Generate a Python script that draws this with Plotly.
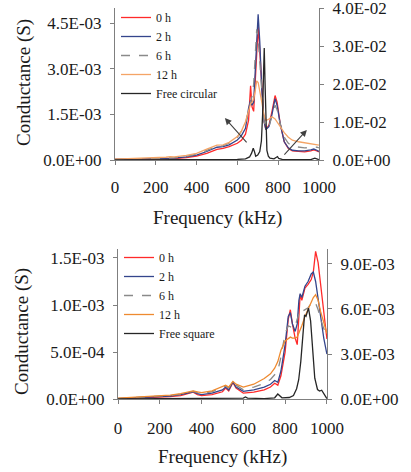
import plotly.graph_objects as go

# ---------------- Data: top panel (circular) ----------------
freq_top = [0, 50, 100, 150, 200, 250, 270, 290, 350, 400, 450, 500, 530, 560, 600, 620, 640,
            655, 665, 672, 680, 688, 695, 702, 710, 720, 730, 740, 755, 770, 785, 795, 810,
            830, 850, 870, 900, 930, 960, 975, 990, 1000]
top_0h = [2.0e-5, 2.5e-5, 3.0e-5, 3.5e-5, 4.0e-5, 5.0e-5, 6.5e-5, 5.0e-5, 8.0e-5, 1.3e-4, 2.2e-4,
          3.5e-4, 3.8e-4, 4.4e-4, 5.5e-4, 6.5e-4, 8.5e-4, 1.3e-3, 2.44e-3, 1.75e-3, 1.6e-3, 2.6e-3,
          3.9e-3, 4.38e-3, 3.6e-3, 2.2e-3, 1.3e-3, 1.0e-3, 1.15e-3, 1.6e-3, 2.12e-3, 1.9e-3, 1.2e-3,
          6.0e-4, 3.8e-4, 3.0e-4, 2.8e-4, 2.7e-4, 3.0e-4, 3.3e-4, 3.0e-4, 2.7e-4]
top_2h = [2.0e-5, 3.0e-5, 3.5e-5, 4.0e-5, 5.0e-5, 6.0e-5, 7.5e-5, 6.0e-5, 1.0e-4, 1.6e-4, 2.8e-4,
          4.2e-4, 4.4e-4, 5.0e-4, 6.6e-4, 8.0e-4, 1.04e-3, 1.7e-3, 1.97e-3, 1.8e-3, 1.9e-3, 3.0e-3,
          4.3e-3, 4.79e-3, 3.9e-3, 2.3e-3, 1.3e-3, 1.0e-3, 1.1e-3, 1.5e-3, 2.02e-3, 1.8e-3, 1.2e-3,
          6.0e-4, 4.0e-4, 3.2e-4, 3.0e-4, 3.0e-4, 3.3e-4, 3.6e-4, 3.2e-4, 2.8e-4]
top_6h = [2.0e-5, 3.0e-5, 4.0e-5, 5.0e-5, 6.0e-5, 7.0e-5, 9.0e-5, 7.0e-5, 1.2e-4, 1.9e-4, 3.2e-4,
          4.5e-4, 4.7e-4, 5.5e-4, 7.5e-4, 9.5e-4, 1.2e-3, 1.6e-3, 1.9e-3, 2.1e-3, 2.5e-3, 3.6e-3,
          4.3e-3, 4.0e-3, 3.2e-3, 2.0e-3, 1.3e-3, 1.05e-3, 1.1e-3, 1.45e-3, 1.8e-3, 1.65e-3, 1.2e-3,
          7.5e-4, 5.5e-4, 4.5e-4, 4.2e-4, 4.0e-4, 4.1e-4, 4.3e-4, 4.2e-4, 4.0e-4]
top_12h = [3.0e-5, 4.0e-5, 5.0e-5, 6.0e-5, 7.0e-5, 9.0e-5, 1.1e-4, 1.0e-4, 1.5e-4, 2.2e-4, 3.6e-4,
           4.9e-4, 5.0e-4, 5.8e-4, 7.7e-4, 9.5e-4, 1.26e-3, 1.6e-3, 1.85e-3, 1.9e-3, 2.0e-3, 2.3e-3,
           2.6e-3, 2.55e-3, 2.3e-3, 1.9e-3, 1.5e-3, 1.3e-3, 1.35e-3, 1.42e-3, 1.35e-3, 1.25e-3, 1.1e-3,
           9.0e-4, 7.5e-4, 6.5e-4, 6.0e-4, 5.6e-4, 5.3e-4, 5.2e-4, 5.0e-4, 4.9e-4]
freq_free_circ = [0, 100, 200, 300, 400, 500, 600, 640, 660, 670, 678, 684, 690, 700, 710, 718,
                  724, 728, 732, 736, 740, 745, 752, 760, 780, 792, 797, 803, 820, 900, 960, 980,
                  990, 1000]
free_circular = [5e-5, 5e-5, 6e-5, 8e-5, 8e-5, 1.0e-4, 1.5e-4, 3.0e-4, 8.0e-4, 1.8e-3, 3.1e-3,
                 2.2e-3, 1.0e-3, 1.3e-3, 2.2e-3, 5.0e-3, 1.2e-2, 2.2e-2, 2.95e-2, 2.0e-2, 8.0e-3,
                 2.5e-3, 1.0e-3, 5.0e-4, 3.0e-4, 6.0e-4, 9.0e-4, 4.0e-4, 1.5e-4, 8e-5, 1.0e-4,
                 5.0e-4, 3.0e-4, 1.0e-4]

# ---------------- Data: bottom panel (square) ----------------
freq_bot = [0, 50, 100, 150, 200, 250, 300, 340, 360, 380, 400, 450, 500, 515, 530, 550, 565,
            600, 650, 700, 730, 750, 765, 780, 800, 815, 825, 835, 848, 858, 866, 872, 880, 895,
            910, 925, 935, 946, 958, 970, 985, 1000]
bot_0h = [5e-6, 1.0e-5, 1.5e-5, 1.8e-5, 2.2e-5, 2.8e-5, 4.0e-5, 6.0e-5, 7.5e-5, 5.0e-5, 4.0e-5,
          5.0e-5, 8.0e-5, 1.2e-4, 9.0e-5, 1.8e-4, 1.2e-4, 6.5e-5, 7.5e-5, 1.0e-4, 1.3e-4, 1.7e-4,
          1.5e-4, 2.5e-4, 5.0e-4, 8.5e-4, 9.5e-4, 8.0e-4, 6.5e-4, 5.8e-4, 9.0e-4, 1.11e-3, 1.05e-3,
          1.18e-3, 1.22e-3, 1.27e-3, 1.35e-3, 1.57e-3, 1.45e-3, 1.23e-3, 9.0e-4, 6.4e-4]
bot_2h = [8e-6, 1.2e-5, 1.8e-5, 2.2e-5, 2.7e-5, 3.5e-5, 5.0e-5, 6.8e-5, 8.0e-5, 6.0e-5, 5.0e-5,
          6.5e-5, 1.0e-4, 1.3e-4, 1.0e-4, 1.85e-4, 1.3e-4, 8.5e-5, 1.0e-4, 1.3e-4, 1.6e-4, 2.0e-4,
          1.8e-4, 3.0e-4, 5.8e-4, 8.8e-4, 9.2e-4, 8.0e-4, 7.2e-4, 8.0e-4, 1.05e-3, 1.12e-3, 1.08e-3,
          1.2e-3, 1.25e-3, 1.33e-3, 1.35e-3, 1.25e-3, 1.05e-3, 8.5e-4, 6.5e-4, 4.8e-4]
bot_6h = [1.0e-5, 1.5e-5, 2.0e-5, 2.5e-5, 3.0e-5, 4.0e-5, 5.5e-5, 7.5e-5, 8.5e-5, 7.0e-5, 6.0e-5,
          8.0e-5, 1.2e-4, 1.4e-4, 1.2e-4, 1.9e-4, 1.5e-4, 1.0e-4, 1.3e-4, 1.7e-4, 2.1e-4, 2.6e-4,
          3.0e-4, 4.5e-4, 7.0e-4, 7.8e-4, 7.7e-4, 7.5e-4, 7.8e-4, 8.5e-4, 9.2e-4, 9.5e-4, 9.3e-4,
          9.5e-4, 9.7e-4, 1.02e-3, 1.04e-3, 1.02e-3, 9.5e-4, 8.5e-4, 7.5e-4, 6.8e-4]
bot_12h = [1.2e-5, 1.8e-5, 2.5e-5, 3.0e-5, 3.6e-5, 4.5e-5, 6.0e-5, 8.0e-5, 9.0e-5, 8.0e-5, 7.0e-5,
           9.0e-5, 1.3e-4, 1.5e-4, 1.3e-4, 1.9e-4, 1.6e-4, 1.3e-4, 1.6e-4, 2.2e-4, 2.7e-4, 3.3e-4,
           4.0e-4, 5.2e-4, 6.2e-4, 6.5e-4, 6.6e-4, 6.5e-4, 6.5e-4, 6.6e-4, 7.0e-4, 7.4e-4, 7.8e-4,
           8.8e-4, 9.5e-4, 1.03e-3, 1.08e-3, 1.11e-3, 1.05e-3, 9.3e-4, 8.0e-4, 7.0e-4]
freq_free_sq = [0, 100, 200, 300, 400, 500, 600, 610, 620, 700, 750, 765, 772, 785, 820, 840,
                855, 865, 875, 885, 893, 900, 912, 922, 932, 942, 955, 965, 975, 985, 1000]
free_square = [2e-5, 3e-5, 5e-5, 6e-5, 5e-5, 5e-5, 8e-5, 1.5e-4, 8e-5, 5e-5, 1.0e-4, 3.5e-4,
               2.5e-4, 1.0e-4, 1.2e-4, 2.5e-4, 7.0e-4, 1.3e-3, 2.5e-3, 4.6e-3, 5.6e-3, 5.5e-3,
               6.05e-3, 5.2e-3, 3.2e-3, 1.4e-3, 6.5e-4, 5.5e-4, 6.0e-4, 3.5e-4, 5e-5]

# ---------------- Axis ticks ----------------
x_ticks = [0, 200, 400, 600, 800, 1000]
top_left_vals = [0, 1.5e-3, 3.0e-3, 4.5e-3]
top_left_text = ["0.0E+00", "1.5E-03", "3.0E-03", "4.5E-03"]
top_right_vals = [0, 1e-2, 2e-2, 3e-2, 4e-2]
top_right_text = ["0.0E+00", "1.0E-02", "2.0E-02", "3.0E-02", "4.0E-02"]
bot_left_vals = [0, 5e-4, 1e-3, 1.5e-3]
bot_left_text = ["0.0E+00", "5.0E-04", "1.0E-03", "1.5E-03"]
bot_right_vals = [0, 3e-3, 6e-3, 9e-3]
bot_right_text = ["0.0E+00", "3.0E-03", "6.0E-03", "9.0E-03"]

FONT = "Liberation Serif, Times New Roman, serif"
RED = "#ff2a2a"
BLUE = "#34458c"
GRAY = "#8a8a8a"
ORANGE_T = "#f4a466"
ORANGE_B = "#ee8a30"
BLACK = "#262626"
LW = 1.3

fig = go.Figure()

def add(x, y, name, color, xa, ya, legend, dash="solid"):
    fig.add_trace(go.Scatter(x=x, y=y, name=name, mode="lines", xaxis=xa, yaxis=ya,
                             legend=legend, line=dict(color=color, width=LW, dash=dash)))

add(freq_top, top_0h, "0 h", RED, "x", "y", "legend")
add(freq_top, top_2h, "2 h", BLUE, "x", "y", "legend")
add(freq_top, top_6h, "6 h", GRAY, "x", "y", "legend", "dash")
add(freq_top, top_12h, "12 h", ORANGE_T, "x", "y", "legend")
add(freq_free_circ, free_circular, "Free circular", BLACK, "x", "y2", "legend")

add(freq_bot, bot_0h, "0 h", RED, "x2", "y3", "legend2")
add(freq_bot, bot_2h, "2 h", BLUE, "x2", "y3", "legend2")
add(freq_bot, bot_6h, "6 h", GRAY, "x2", "y3", "legend2", "dash")
add(freq_bot, bot_12h, "12 h", ORANGE_B, "x2", "y3", "legend2")
add(freq_free_sq, free_square, "Free square", BLACK, "x2", "y4", "legend2")

W, H = 411, 472
tickfont = dict(family=FONT, size=17, color="#1a1a1a")
axcommon = dict(showgrid=False, zeroline=False, showline=True, linecolor="#7f7f7f",
                linewidth=1, ticks="outside", ticklen=4, tickcolor="#7f7f7f",
                tickfont=tickfont, fixedrange=True, ticklabeloverflow="allow",
                automargin=False)

fig.update_layout(
    width=W, height=H, margin=dict(l=0, r=0, t=0, b=0, autoexpand=False),
    paper_bgcolor="white", plot_bgcolor="white",
    font=dict(family=FONT, color="#1a1a1a"),
    xaxis=dict(domain=[115 / W, 319 / W], range=[0, 1000.5], tickvals=x_ticks,
               anchor="y", ticklabelstandoff=8, **axcommon),
    yaxis=dict(domain=[1 - 160 / H, 1 - 8 / H], range=[0, 5e-3], tickvals=top_left_vals,
               ticktext=top_left_text, anchor="x", ticklabelstandoff=5, **axcommon),
    yaxis2=dict(domain=[1 - 160 / H, 1 - 8 / H], range=[0, 4.003e-2], tickvals=top_right_vals,
                ticktext=top_right_text, overlaying="y", side="right", anchor="x",
                ticklabelstandoff=5, **axcommon),
    xaxis2=dict(domain=[118 / W, 327 / W], range=[0, 1000.5], tickvals=x_ticks,
                anchor="y3", ticklabelstandoff=9, **axcommon),
    yaxis3=dict(domain=[1 - 399.3 / H, 1 - 248.5 / H], range=[0, 1.6e-3], tickvals=bot_left_vals,
                ticktext=bot_left_text, anchor="x2", ticklabelstandoff=5, **axcommon),
    yaxis4=dict(domain=[1 - 399.3 / H, 1 - 248.5 / H], range=[0, 1e-2], tickvals=bot_right_vals,
                ticktext=bot_right_text, overlaying="y3", side="right", anchor="x2",
                ticklabelstandoff=5, **axcommon),
    legend=dict(x=116 / W, y=1 - 3 / H, xanchor="left", yanchor="top",
                bgcolor="rgba(0,0,0,0)", font=dict(family=FONT, size=12, color="#1a1a1a"),
                tracegroupgap=0, itemwidth=30),
    legend2=dict(x=119 / W, y=1 - 243 / H, xanchor="left", yanchor="top",
                 bgcolor="rgba(0,0,0,0)", font=dict(family=FONT, size=12, color="#1a1a1a"),
                 tracegroupgap=0, itemwidth=30),
    showlegend=True,
)

title_font = dict(family=FONT, size=19, color="#1a1a1a")
annotations = [
    dict(text="Conductance (S)", x=24 / W, y=1 - 83 / H, xref="paper", yref="paper",
         showarrow=False, textangle=-90, font=title_font, xanchor="center", yanchor="middle"),
    dict(text="Frequency (kHz)", x=217 / W, y=1 - 218 / H, xref="paper", yref="paper",
         showarrow=False, font=title_font, xanchor="center", yanchor="middle"),
    dict(text="Conductance (S)", x=22 / W, y=1 - 332 / H, xref="paper", yref="paper",
         showarrow=False, textangle=-90, font=title_font, xanchor="center", yanchor="middle"),
    dict(text="Frequency (kHz)", x=222 / W, y=1 - 457 / H, xref="paper", yref="paper",
         showarrow=False, font=title_font, xanchor="center", yanchor="middle"),
    # trend arrows in the top panel
    dict(x=539, y=1.38e-3, ax=652, ay=0.53e-3, xref="x", yref="y", axref="x", ayref="y",
         text="", showarrow=True, arrowhead=2, arrowsize=1.2, arrowwidth=1.1,
         arrowcolor="#404040"),
    dict(x=941, y=0.99e-3, ax=824, ay=0.13e-3, xref="x", yref="y", axref="x", ayref="y",
         text="", showarrow=True, arrowhead=2, arrowsize=1.2, arrowwidth=1.1,
         arrowcolor="#404040"),
]
fig.update_layout(annotations=annotations)

fig.write_html("out.html")
